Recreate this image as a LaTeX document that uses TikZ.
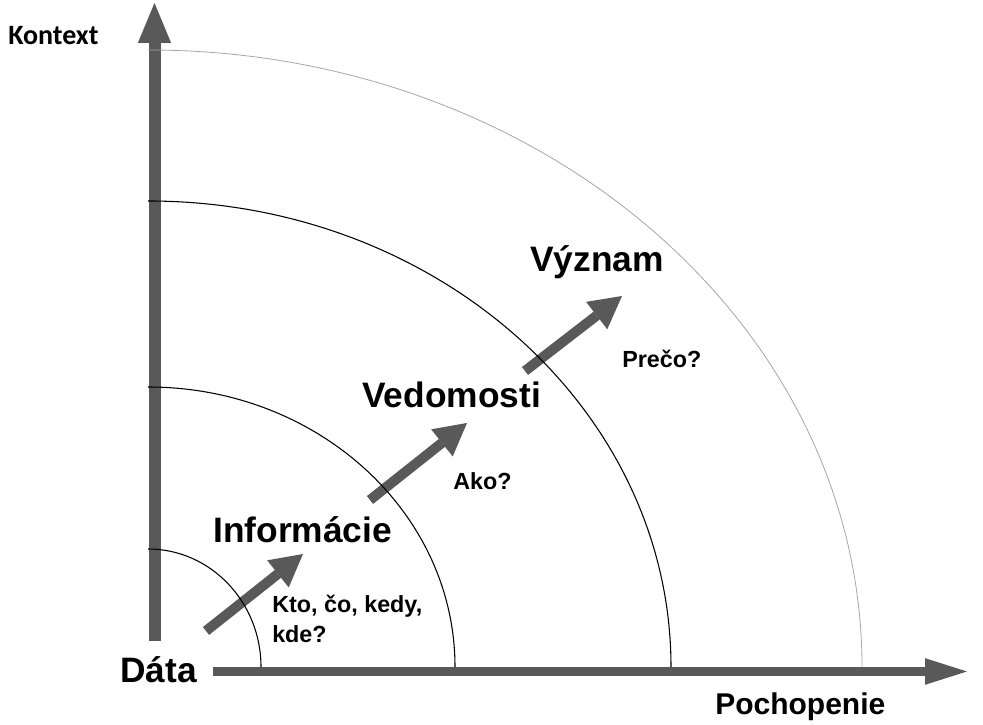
\documentclass[tikz,border=0pt]{standalone}
\usepackage{fontspec}
\setmainfont{Liberation Sans}
\newfontfamily\kontextfont{Carlito}
\usetikzlibrary{arrows.meta, positioning}
\definecolor{osgray}{HTML}{595959}
\definecolor{arcgray}{HTML}{A6A6A6}
\tikzset{
  % hrube osi grafu
  osline/.style={draw=osgray, line cap=butt},
  % nazvy stupnov
  stage/.style={font=\fontsize{26.5}{30}\selectfont\bfseries, inner sep=0pt,
    anchor=base west},
  % otazky pri sipkach
  query/.style={font=\fontsize{17.5}{22.5}\selectfont\bfseries, inner sep=0pt,
    anchor=base west, align=left},
  % popis osi
  oslbl/.style={font=\fontsize{22.5}{26}\selectfont\bfseries, inner sep=0pt,
    anchor=base west},
  % obluky urovni
  levelarc/.style={draw=black, line width=0.8pt},
  outerarc/.style={draw=arcgray, line width=0.6pt},
  % sipka prechodu medzi stupnami
  stagearrow/.style={draw=osgray, line width=7.5pt,
    -{Triangle[length=24pt, width=26pt, line width=0pt]}},
}
\begin{document}
\begin{tikzpicture}[x=0.75pt, y=0.75pt]
  \useasboundingbox (0,0) rectangle (983,725);
  % osi
  \coordinate (o) at (148,58);
  \coordinate (ybot) at (154.5,84);
  \coordinate (ytop) at (154.5,722);
  \coordinate (xleft) at (213,53.5);
  \coordinate (xright) at (967,53.5);
  \draw[osline, line width=9pt,
    -{Triangle[length=30pt, width=25pt, line width=0pt]}] (ybot) -- (ytop);
  \draw[osline, line width=7pt,
    -{Triangle[length=31.5pt, width=20pt, line width=0pt]}] (xleft) -- (xright);
  % sipky
  \coordinate (dtail) at (206,94);  \coordinate (itip) at (303,171);
  \coordinate (itail) at (370,225); \coordinate (vtip) at (467,302);
  \coordinate (vtail) at (525,354); \coordinate (ztip) at (622,429);
  \draw[stagearrow] (dtail) -- (itip);
  \draw[stagearrow] (itail) -- (vtip);
  \draw[stagearrow] (vtail) -- (ztip);
  % obluky
  \draw[levelarc] (o) ++(113,0) arc[start angle=0, end angle=90, x radius=113, y radius=118];
  \draw[levelarc] (o) ++(307,0) arc[start angle=0, end angle=90, x radius=307, y radius=280];
  \draw[levelarc] (o) ++(523,0) arc[start angle=0, end angle=90, x radius=523, y radius=466];
  \draw[outerarc] (o) ++(714,0) arc[start angle=0, end angle=90, x radius=714, y radius=617];
  % texty
  \node[font=\kontextfont\fontsize{21}{24}\selectfont\bfseries, inner sep=0pt,
    anchor=base west] (kontext) at (8,680) {Kontext};
  \node[stage] (data) at (120,42) {Dáta};
  \node[stage] (info) at (213,182) {Informácie};
  \node[stage] (vedo) at (362,317) {Vedomosti};
  \node[stage] (vyzn) at (530,453) {Význam};
  \node[query] (kto) at (272,82) {Kto, čo, kedy,\\kde?};
  \node[query] (ako) at (453,235) {Ako?};
  \node[query] (preco) at (622,357) {Prečo?};
  \node[oslbl] (poch) at (715,10) {Pochopenie};
\end{tikzpicture}
\end{document}
